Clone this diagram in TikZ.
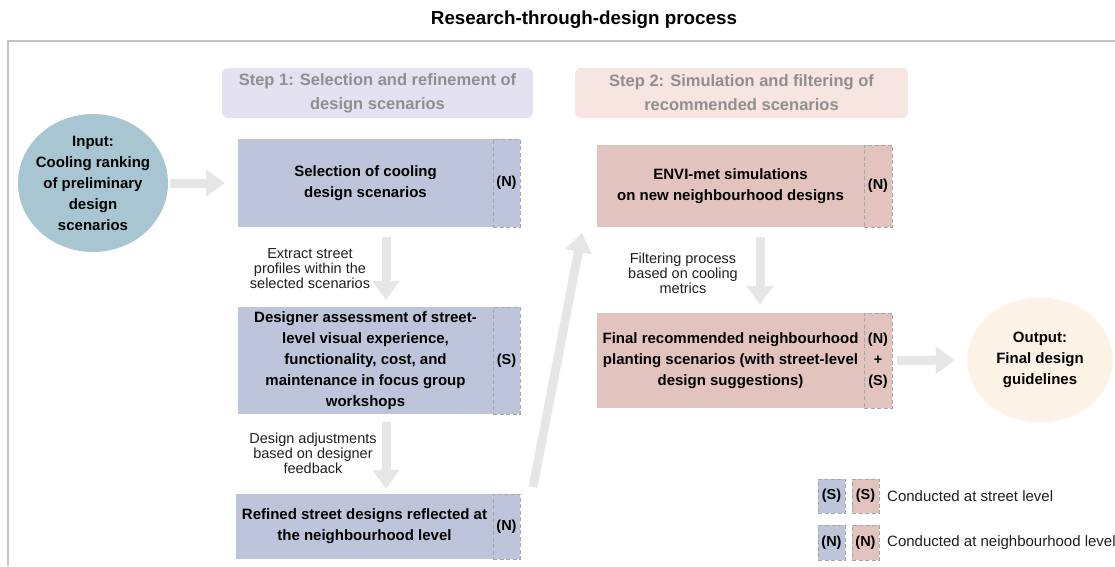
\documentclass[tikz,border=0pt]{standalone}
\usepackage{fontspec}
\setmainfont{Liberation Sans}
\usetikzlibrary{arrows.meta,calc,shapes.geometric}
\definecolor{bluebox}{HTML}{BEC5DA}
\definecolor{pinkbox}{HTML}{E3C3BE}
\definecolor{hdrone}{HTML}{E4E2F1}
\definecolor{hdrtwo}{HTML}{F6E5E0}
\definecolor{incol}{HTML}{A8C6D2}
\definecolor{outcol}{HTML}{FDF2E6}
\definecolor{arrcol}{HTML}{E6E6E6}
\definecolor{tagline}{HTML}{A6A6A6}
\definecolor{hdrtext}{HTML}{8F8F8F}
\definecolor{framecol}{HTML}{C4C4C4}
\begin{document}
\begin{tikzpicture}[x=1pt,y=-1pt,
  procbox/.style={rectangle, inner sep=0pt, outer sep=0pt, align=center,
    font=\fontsize{15}{21}\selectfont\bfseries},
  tagbox/.style={rectangle, draw=tagline, dash pattern=on 4pt off 2.5pt,
    line width=0.9pt, inner sep=0pt, outer sep=0pt, align=center,
    font=\fontsize{14.5}{21}\selectfont\bfseries},
  header/.style={rectangle, rounded corners=6pt, inner sep=0pt, align=center,
    font=\fontsize{16.5}{24}\selectfont\bfseries, text=hdrtext},
  fat/.style={draw=arrcol, line width=9pt, -{Triangle[length=19pt,width=26pt]}},
  note/.style={font=\fontsize{14.5}{15}\selectfont, align=center, text=black!88},
  blob/.style={ellipse, inner xsep=-6pt, inner ysep=-3pt, align=center,
    font=\fontsize{15}{21}\selectfont\bfseries},
  legtext/.style={anchor=west, inner sep=0pt, font=\fontsize{15}{18}\selectfont, text=black!88}
]
\useasboundingbox (0,0) rectangle (1115,566);

% title and frame
\node[font=\fontsize{18.8}{22}\selectfont\bfseries] (title) at (584,20) {Research-through-design process};
\draw[framecol, line width=1.2pt] (8,566) -- (8,41) -- (1115,41);

% step headers
\node[header, fill=hdrone, minimum width=311pt, minimum height=50pt] (h1) at (377.5,93)
  {Step 1: Selection and refinement of\\design scenarios};
\node[header, fill=hdrtwo, minimum width=333pt, minimum height=50pt] (h2) at (741.5,93)
  {Step 2: Simulation and filtering of\\recommended scenarios};

% input / output
\node[blob, fill=incol, minimum width=150pt, minimum height=138pt] (in) at (93,183)
  {Input:\\Cooling ranking\\of preliminary\\design\\scenarios};
\node[blob, fill=outcol, minimum width=146pt, minimum height=125pt] (out) at (1040,360)
  {Output:\\Final design\\guidelines};

% step 1 boxes
\node[procbox, fill=bluebox, minimum width=255pt, minimum height=88pt] (b1) at (365.5,183)
  {Selection of cooling\\design scenarios};
\node[tagbox, fill=bluebox, minimum width=27pt, minimum height=88pt] (t1) at (506.5,183) {(N)};

\node[procbox, fill=bluebox, minimum width=255pt, minimum height=107pt] (b2) at (365.5,360.5)
  {Designer assessment of street-\\level visual experience,\\functionality, cost, and\\maintenance in focus group\\workshops};
\node[tagbox, fill=bluebox, minimum width=27pt, minimum height=107pt] (t2) at (506.5,360.5) {(S)};

\node[procbox, fill=bluebox, minimum width=257pt, minimum height=65pt] (b3) at (364.5,526.5)
  {Refined street designs reflected at\\the neighbourhood level};
\node[tagbox, fill=bluebox, minimum width=27pt, minimum height=65pt] (t3) at (506.5,526.5) {(N)};

% step 2 boxes
\node[procbox, fill=pinkbox, minimum width=267pt, minimum height=82pt] (b4) at (730.5,186)
  {ENVI-met simulations\\on new neighbourhood designs};
\node[tagbox, fill=pinkbox, minimum width=28pt, minimum height=82pt] (t4) at (878,186) {(N)};

\node[procbox, fill=pinkbox, minimum width=267pt, minimum height=95pt] (b5) at (730.5,360.5)
  {Final recommended neighbourhood\\planting scenarios (with street-level\\design suggestions)};
\node[tagbox, fill=pinkbox, minimum width=28pt, minimum height=95pt] (t5) at (878,360.5) {(N)\\+\\(S)};

% arrows
\coordinate (ax1) at (386,0);
\coordinate (ax2) at (760,0);
\draw[fat, shorten <=2pt, shorten >=13pt] (in.east |- b1.west) -- (b1.west);
\draw[fat, shorten <=10pt, shorten >=7pt] (b1.south -| ax1) -- (b2.north -| ax1);
\draw[fat, shorten <=8pt, shorten >=5pt] (b2.south -| ax1) -- (b3.north -| ax1);
\coordinate (dstart) at ($(t3.north east)+(13,-7)$);
\coordinate (dend) at ($(b4.south west)+(-15,6)$);
\draw[fat] (dstart) -- (dend);
\draw[fat, shorten <=10pt, shorten >=8pt] (b4.south -| ax2) -- (b5.north -| ax2);
\draw[fat, shorten <=5pt, shorten >=12pt] (t5.east) -- (out.west);

% arrow labels
\node[note] (n1) at (310,269) {Extract street\\profiles within the\\selected scenarios};
\node[note] (n2) at (313,453) {Design adjustments\\based on designer\\feedback};
\node[note] (n3) at (683,273) {Filtering process\\based on cooling\\metrics};

% legend
\node[tagbox, fill=bluebox, minimum width=27pt, minimum height=34pt] (ls1) at (831.5,496) {(S)};
\node[tagbox, fill=pinkbox, minimum width=27pt, minimum height=34pt] (ls2) at (865.5,496) {(S)};
\node[legtext] (lt1) at (887,496) {Conducted at street level};
\node[tagbox, fill=bluebox, minimum width=27pt, minimum height=35pt] (ln1) at (831.5,542.5) {(N)};
\node[tagbox, fill=pinkbox, minimum width=27pt, minimum height=35pt] (ln2) at (865.5,542.5) {(N)};
\node[legtext] (lt2) at (887,542.5) {Conducted at neighbourhood level};
\end{tikzpicture}
\end{document}
